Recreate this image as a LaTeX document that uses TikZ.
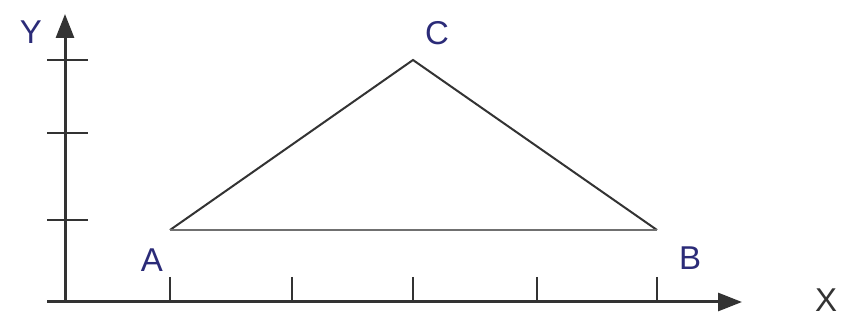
\documentclass[tikz,border=0pt]{standalone}
\usepackage{fontspec}
\setmainfont{Liberation Sans}
\usetikzlibrary{arrows.meta}
\definecolor{lbl}{HTML}{2B2B78}
\definecolor{axis}{HTML}{333333}
\begin{document}
\begin{tikzpicture}[x=1pt,y=-1pt,
  axisline/.style={draw=axis,line width=3pt,-{Triangle[length=24pt,width=18pt]}},
  tickline/.style={draw=axis,line width=2pt},
  edge/.style={draw=axis,line width=2pt},
  baseedge/.style={draw=axis!70,line width=2pt},
  lab/.style={text=lbl,font=\fontsize{33}{33}\selectfont,inner sep=0pt},
  xlab/.style={text=axis,font=\fontsize{33}{33}\selectfont,inner sep=0pt}]
\useasboundingbox (0,0) rectangle (844,320);
\coordinate (xs) at (47,302);
\coordinate (xe) at (742,302);
\coordinate (ys) at (65,302);
\coordinate (ye) at (65,14);
\draw[axisline] (xs) -- (xe);
\draw[axisline] (ys) -- (ye);
\foreach \yy in {60,133,220} {\draw[tickline] (47,\yy) -- (88,\yy);}
\foreach \xx in {170,292,413,537,657} {\draw[tickline] (\xx,277) -- (\xx,302);}
\coordinate (A) at (170,230);
\coordinate (B) at (657,230);
\coordinate (C) at (413,60);
\draw[edge] (A) -- (C) -- (B);
\draw[baseedge] (A) -- (B);
\node[lab] (lA) at (152,260) {A};
\node[lab] (lB) at (690,258) {B};
\node[lab] (lC) at (437,33) {C};
\node[lab] (lY) at (31,32) {Y};
\node[xlab] (lX) at (826,300) {X};
\end{tikzpicture}
\end{document}
